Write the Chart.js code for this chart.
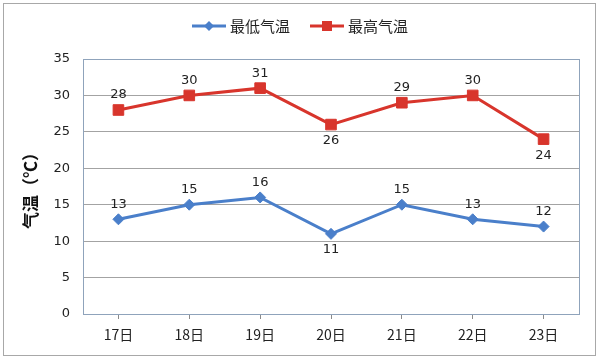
<!DOCTYPE html>
<html><head><meta charset="utf-8">
<script src="https://cdn.jsdelivr.net/npm/chart.js@4/dist/chart.umd.min.js"></script>
<style>html,body{margin:0;padding:0;background:#fff}#wrap{width:600px;height:360px;position:relative}</style>
</head><body><div id="wrap"><canvas id="c" width="600" height="360"></canvas></div>
<script>
const categories = ['17日','18日','19日','20日','21日','22日','23日'];
const lowTemps = [13, 15, 16, 11, 15, 13, 12];
const highTemps = [28, 30, 31, 26, 29, 30, 24];
const lowLabelSide = ['above','above','above','below','above','above','above'];
const highLabelSide = ['above','above','above','below','above','above','below'];
const seriesNames = ['最低气温', '最高气温'];
const yTicks = [0, 5, 10, 15, 20, 25, 30, 35];

const BLUE = '#4a7fca', RED = '#d8352c';
const NUM_FONT = '"DejaVu Sans", "Noto Sans CJK SC", sans-serif';
const CJK_FONT = '"Noto Sans CJK SC", "DejaVu Sans", sans-serif';

const frame = {
  id: 'frame',
  beforeDraw(chart) {
    const ctx = chart.ctx;
    ctx.save();
    ctx.fillStyle = '#fff';
    ctx.fillRect(0, 0, chart.width, chart.height);
    ctx.strokeStyle = '#a8a8a8';
    ctx.lineWidth = 1;
    ctx.strokeRect(3.5, 3.5, 592, 352);
    ctx.restore();
  },
  afterDraw(chart) {
    const ctx = chart.ctx, a = chart.chartArea;
    ctx.save();
    ctx.strokeStyle = '#8fa3bb';
    ctx.lineWidth = 1;
    ctx.strokeRect(Math.round(a.left) + 0.5, Math.round(a.top) + 0.5, Math.round(a.right - a.left), Math.round(a.bottom - a.top));
    // legend
    const items = [
      {x: 192, textX: 230, ds: chart.data.datasets[0]},
      {x: 310, textX: 348, ds: chart.data.datasets[1]}
    ];
    const ly = 26;
    items.forEach(it => {
      const ds = it.ds;
      ctx.strokeStyle = ds.borderColor;
      ctx.lineWidth = 3;
      ctx.beginPath();
      ctx.moveTo(it.x, ly); ctx.lineTo(it.x + 34, ly); ctx.stroke();
      ctx.fillStyle = ds.borderColor;
      const cx = it.x + 17;
      if (ds.pointStyle === 'rect') {
        ctx.fillRect(cx - 5, ly - 5, 10, 10);
      } else {
        ctx.beginPath();
        ctx.moveTo(cx, ly - 5); ctx.lineTo(cx + 5, ly); ctx.lineTo(cx, ly + 5); ctx.lineTo(cx - 5, ly);
        ctx.closePath(); ctx.fill();
      }
      ctx.fillStyle = '#222';
      ctx.font = '15px ' + CJK_FONT;
      ctx.textAlign = 'left';
      ctx.textBaseline = 'middle';
      ctx.fillText(ds.label, it.textX, ly);
    });
    ctx.restore();
  },
  afterDatasetsDraw(chart) {
    const ctx = chart.ctx;
    ctx.save();
    ctx.font = '13px ' + NUM_FONT;
    ctx.fillStyle = '#222';
    ctx.textAlign = 'center';
    ctx.textBaseline = 'middle';
    chart.data.datasets.forEach((ds, i) => {
      const meta = chart.getDatasetMeta(i);
      meta.data.forEach((pt, j) => {
        const side = ds.labelSide[j];
        const y = side === 'below' ? pt.y + 16 : pt.y - 15;
        ctx.fillText(String(ds.data[j]), pt.x, y);
      });
    });
    ctx.restore();
  }
};

new Chart(document.getElementById('c'), {
  type: 'line',
  data: {
    labels: categories,
    datasets: [
      {label: seriesNames[0], data: lowTemps, labelSide: lowLabelSide, borderColor: BLUE, backgroundColor: BLUE,
       borderWidth: 3, pointStyle: 'rectRot', pointRadius: 5.5, pointBorderWidth: 1, pointBackgroundColor: BLUE, pointBorderColor: BLUE, tension: 0},
      {label: seriesNames[1], data: highTemps, labelSide: highLabelSide, borderColor: RED, backgroundColor: RED,
       borderWidth: 3, pointStyle: 'rect', pointRadius: 7.5, pointBorderWidth: 1, pointBackgroundColor: RED, pointBorderColor: RED, tension: 0}
    ]
  },
  options: {
    responsive: false,
    animation: false,
    layout: {padding: {left: 0, right: 21, top: 59, bottom: 0}},
    plugins: {legend: {display: false}, tooltip: {enabled: false}},
    scales: {
      x: {
        offset: true,
        grid: {offset: false, drawOnChartArea: false, drawTicks: true, tickLength: 5, color: '#8a8a8a'},
        border: {display: false},
        ticks: {color: '#222', font: {family: CJK_FONT, size: 14}, padding: 7, maxRotation: 0},
        afterFit(s) { s.height = 46; }
      },
      y: {
        min: 0, max: 35,
        afterBuildTicks(s) { s.ticks = yTicks.map(v => ({value: v})); },
        grid: {color: '#a3a3a3', drawTicks: false},
        border: {display: false},
        ticks: {color: '#222', font: {family: NUM_FONT, size: 13}, padding: 13},
        title: {display: true, text: '气温（℃）', color: '#111', font: {family: CJK_FONT, size: 17, weight: 'bold'}, padding: {top: 20, bottom: 0}},
        afterFit(s) { s.width = 83; }
      }
    }
  },
  plugins: [frame]
});
</script></body></html>
